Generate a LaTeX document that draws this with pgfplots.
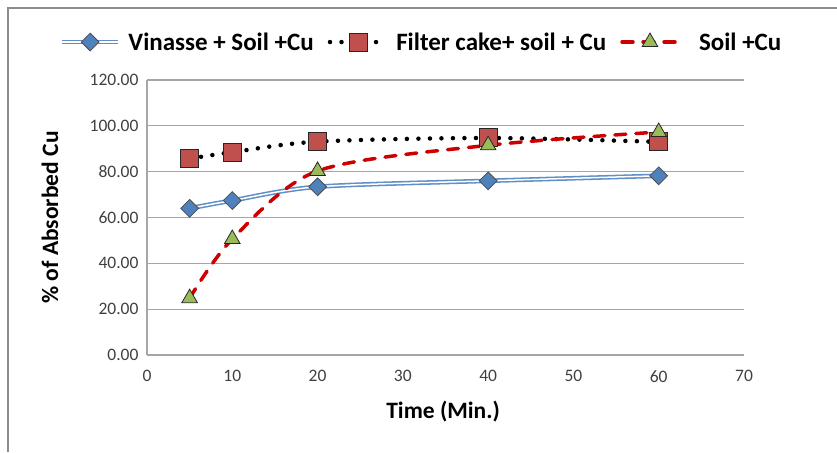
\documentclass[border=0pt]{standalone}
\usepackage{pgfplots}
\pgfplotsset{compat=1.18}
\usepackage{fontspec}
\setmainfont{Carlito}

\definecolor{gridgray}{RGB}{166,166,166}
\definecolor{framegray}{RGB}{140,140,140}
\definecolor{ticktext}{RGB}{64,64,64}
\definecolor{lineblue}{RGB}{95,142,200}
\definecolor{markblue}{RGB}{79,129,189}
\definecolor{markred}{RGB}{192,80,77}
\definecolor{markgreen}{RGB}{155,187,89}
\definecolor{linered}{RGB}{204,0,0}

\pgfplotstableread{
t   v
5   64.0
10  67.4
20  73.4
40  76.0
60  78.2
}\vinasse
\pgfplotstableread{
t   v
5   85.7
10  88.5
20  93.1
40  94.7
60  93.0
}\filtercake
\pgfplotstableread{
t   v
5   24.8
10  50.6
20  80.3
40  91.5
60  97.3
}\soil

\begin{document}
\begin{tikzpicture}[x=1pt,y=1pt]
\useasboundingbox (0,0) rectangle (837,452);
\draw[framegray, line width=1.2pt] (8,0) -- (8,444) -- (837,444);
\begin{axis}[
   at={(147pt,97pt)}, anchor=south west,
   scale only axis, width=597pt, height=275pt,
   xmin=0, xmax=70, ymin=0, ymax=120,
   xtick={0,10,...,70}, ytick={0,20,...,120},
   axis x line*=bottom, axis y line*=left,
   axis line style={gridgray, line width=1.2pt, -},
   ymajorgrids, grid style={gridgray, line width=1.2pt},
   major tick length=0pt,
   tick label style={font=\fontsize{17.5}{20}\selectfont, text=ticktext},
   x tick label style={yshift=-12pt, /pgf/number format/.cd, assume math mode=true},
   y tick label style={xshift=-5pt, /pgf/number format/.cd, fixed, fixed zerofill,
      precision=2, assume math mode=true},
   xlabel={Time (Min.)}, ylabel={\% of Absorbed Cu},
   label style={font=\bfseries\fontsize{23.5}{28}\selectfont},
   xlabel style={at={(axis description cs:0.496,-0.207)}, anchor=center},
   ylabel style={at={(axis description cs:-0.1625,0.5)}, anchor=center},
   legend columns=3,
   legend style={draw=none, fill=none, at={(0.46,1.138)}, anchor=center,
      font=\bfseries\fontsize{25}{30}\selectfont,
      /tikz/every odd column/.append style={column sep=6pt},
      /tikz/every even column/.append style={column sep=12pt}},
   legend cell align=left,
   legend image code/.code={
      \draw[mark repeat=2,mark phase=2,#1]
         plot coordinates {(0pt,0pt) (28pt,0pt) (56pt,0pt)};},
]
% Vinasse: double blue line
\addplot[draw=lineblue, line width=4.6pt, smooth, forget plot] table[x=t,y=v] {\vinasse};
\addplot[draw=white, line width=1.5pt, smooth, forget plot] table[x=t,y=v] {\vinasse};
\addplot[only marks, mark=square*, mark size=6.3pt,
   mark options={rotate=45, fill=markblue, draw=black!70, line width=0.8pt},
   legend image code/.code={
      \draw[lineblue, line width=4.6pt] (0pt,0pt) -- (56pt,0pt);
      \draw[white, line width=1.5pt] (0pt,0pt) -- (56pt,0pt);
      \draw[##1] plot coordinates {(28pt,0pt)};}]
   table[x=t,y=v] {\vinasse};
\addlegendentry{Vinasse + Soil +Cu}
% Filter cake: black dots
\addplot[black, line width=4.5pt, line cap=round, dash pattern=on 0pt off 11.5pt,
   smooth, mark=square*, mark size=9pt,
   mark options={solid, fill=markred, draw=black!85, line width=1pt}]
   table[x=t,y=v] {\filtercake};
\addlegendentry{Filter cake+ soil + Cu}
% Soil: red dashes
\addplot[linered, line width=3.5pt, line cap=round, dash pattern=on 11pt off 10pt,
   smooth, mark=triangle*, mark size=9pt,
   mark options={solid, fill=markgreen, draw=black!85, line width=0.8pt}]
   table[x=t,y=v] {\soil};
\addlegendentry{\ \ Soil +Cu}
\end{axis}
\end{tikzpicture}
\end{document}
